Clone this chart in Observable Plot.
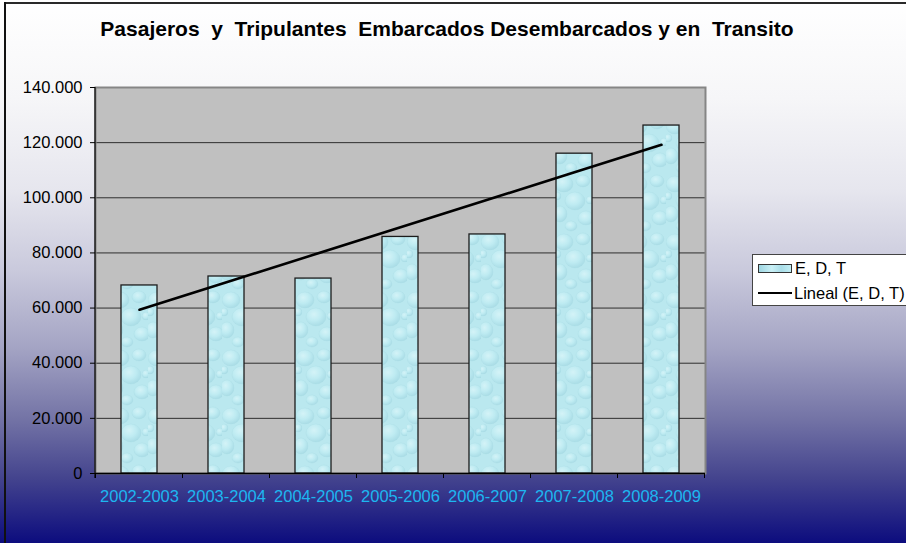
<!DOCTYPE html>
<html>
<head>
<meta charset="utf-8">
<script src="https://cdn.jsdelivr.net/npm/d3@7"></script>
<script src="https://cdn.jsdelivr.net/npm/@observablehq/plot@0.6"></script>
<style>
  html, body { margin: 0; padding: 0; }
  body { width: 906px; height: 543px; overflow: hidden; font-family: "Liberation Sans", Arial, sans-serif; }
  #chart {
    position: relative; width: 906px; height: 543px; overflow: hidden;
    background: linear-gradient(to bottom, #ffffff 0%, #f6f6f8 18%, #e6e6ee 35%, #c9c9dc 50%, #a4a4c4 64%, #7474a6 77%, #44448e 88%, #0c0c7e 100%);
  }
  #title {
    position: absolute; left: 0; width: 894px; top: 17px; text-align: center;
    font-weight: bold; font-size: 21px; white-space: pre; color: #000;
  }
  #borderTop { position: absolute; left: 4px; top: 2px; width: 902px; height: 2px; background: #2a2a2a; }
  #borderLeft { position: absolute; left: 4px; top: 2px; width: 2px; height: 541px; background: #111; }
  #legend {
    position: absolute; left: 752px; top: 254px; width: 170px; height: 50px;
    background: #fff; border: 1px solid #444; font-size: 16.5px; white-space: nowrap;
  }
  .li { position: absolute; left: 5px; height: 20px; display: flex; align-items: center; }
  .sw { width: 32px; height: 7px; border: 1px solid #333; margin-right: 3px;
        background: linear-gradient(90deg, #9ed6e2, #c9f0f6 40%, #a9dde8 70%, #c2eef4); }
  .ln { width: 34px; height: 2px; background: #000; margin-right: 2px; }
  #plot { position: absolute; left: 0; top: 0; }
</style>
</head>
<body>
<div id="chart">
  <div id="plot"></div>
  <div id="borderTop"></div>
  <div id="borderLeft"></div>
  <div id="title">Pasajeros  y  Tripulantes  Embarcados Desembarcados y en  Transito</div>
  <div id="legend">
    <div class="li" style="top:3px"><div class="sw"></div><span>E, D, T</span></div>
    <div class="li" style="top:28px"><div class="ln"></div><span>Lineal (E, D, T)</span></div>
  </div>
</div>
<script>
const categories = ["2002-2003", "2003-2004", "2004-2005", "2005-2006", "2006-2007", "2007-2008", "2008-2009"];
const values = [68200, 71450, 70700, 85800, 86700, 116000, 126200];
const yTicks = [0, 20000, 40000, 60000, 80000, 100000, 120000, 140000];
const seriesName = "E, D, T";

const data = categories.map((c, i) => ({cat: c, value: values[i]}));

// linear trend line (least squares over category index)
const xs = values.map((_, i) => i + 1);
const mx = d3.mean(xs), my = d3.mean(values);
const slope = d3.sum(xs, (x, i) => (x - mx) * (values[i] - my)) / d3.sum(xs, x => (x - mx) ** 2);
const trend = categories.map((c, i) => ({cat: c, value: my + slope * (xs[i] - mx)}));

const fmt = d => d === 0 ? "0" : d3.format(",")(d).replace(/,/g, ".");

function boundaryTicks(index, scales, values, dimensions) {
  const x = scales.x, y = scales.y;
  const step = x.step(), bw = x.bandwidth();
  const y0 = y(0);
  const g = d3.create("svg:g");
  const pos = categories.map(c => x(c) + bw / 2 - step / 2);
  pos.push(x(categories[categories.length - 1]) + bw / 2 + step / 2);
  for (const p of pos) {
    g.append("line").attr("x1", p).attr("x2", p).attr("y1", y0).attr("y2", y0 + 5)
      .attr("stroke", "#000").attr("stroke-width", 1);
  }
  // left axis line
  g.append("line").attr("x1", dimensions.marginLeft).attr("x2", dimensions.marginLeft)
    .attr("y1", y(140000)).attr("y2", y0 + 5).attr("stroke", "#000").attr("stroke-width", 1.2);
  return g.node();
}

const plot = Plot.plot({
  width: 906,
  height: 543,
  marginLeft: 95,
  marginRight: 201,
  marginTop: 87,
  marginBottom: 70,
  style: {background: "transparent", fontFamily: "'Liberation Sans', Arial, sans-serif", overflow: "visible"},
  x: {domain: categories, paddingInner: 0.587, paddingOuter: 0.2935, axis: null, label: null},
  y: {domain: [0, 140000], axis: null, label: null},
  marks: [
    Plot.frame({fill: "#C0C0C0"}),
    Plot.ruleY(yTicks.slice(1, -1), {stroke: "#2e2e2e", strokeWidth: 1}),
    Plot.frame({stroke: "#858585", strokeWidth: 2}),
    Plot.barY(data, {x: "cat", y: "value", fill: "url(#water)", stroke: "#1c1c1c", strokeWidth: 1.3}),
    Plot.line(trend, {x: "cat", y: "value", stroke: "#000", strokeWidth: 2.6}),
    Plot.ruleY([0], {stroke: "#000", strokeWidth: 1.5}),
    Plot.axisY({ticks: yTicks, tickFormat: fmt, tickSize: 5, tickPadding: 8, fontSize: 16.5, stroke: "#000", fill: "#000", label: null}),
    Plot.axisX({tickSize: 0, tickPadding: 17, fontSize: 16.5, fill: "#1DB6F0", label: null}),
    boundaryTicks
  ]
});

// water-drop texture pattern for the bars
const svg = d3.select(plot);
const defs = svg.insert("defs", ":first-child");
const rg = defs.append("radialGradient").attr("id", "drop").attr("cx", "40%").attr("cy", "35%").attr("r", "65%");
rg.append("stop").attr("offset", "0%").attr("stop-color", "#E6FAFC");
rg.append("stop").attr("offset", "55%").attr("stop-color", "#C2EDF3");
rg.append("stop").attr("offset", "100%").attr("stop-color", "#A0D5E0");
const pat = defs.append("pattern").attr("id", "water").attr("patternUnits", "userSpaceOnUse")
  .attr("width", 37).attr("height", 58);
pat.append("rect").attr("width", 37).attr("height", 58).attr("fill", "#BAE8EF");
const drops = [
  [9, 10, 9, 8], [28, 7, 7, 6], [20, 27, 10, 9], [5, 40, 7, 8], [31, 44, 8, 7],
  [16, 52, 6, 5], [2, 22, 4, 4], [35, 26, 4, 4]
];
for (const [cx, cy, rx, ry] of drops) {
  pat.append("ellipse").attr("cx", cx).attr("cy", cy).attr("rx", rx).attr("ry", ry)
    .attr("fill", "url(#drop)").attr("opacity", 0.6)
    .attr("stroke", "#92CAD6").attr("stroke-width", 0.6).attr("stroke-opacity", 0.4);
}

document.getElementById("plot").appendChild(plot);
</script>
</body>
</html>
